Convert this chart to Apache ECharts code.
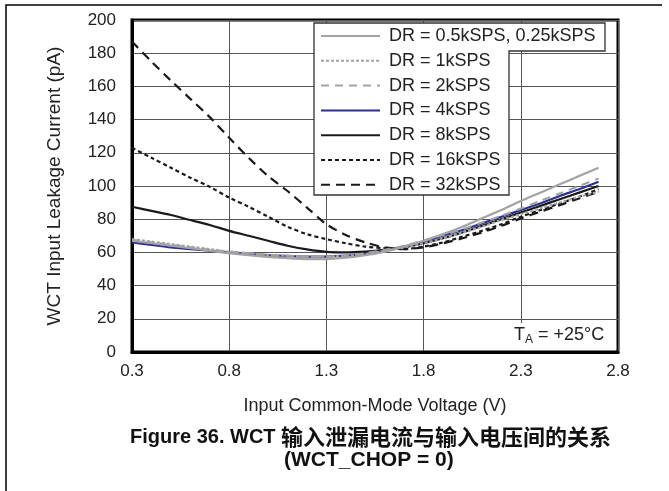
<!DOCTYPE html>
<html>
<head>
<meta charset="utf-8">
<script src="https://cdn.jsdelivr.net/npm/echarts@6/dist/echarts.min.js"></script>
<style>
  html, body { margin: 0; padding: 0; background: #fff; }
  #main { width: 669px; height: 491px; }
</style>
</head>
<body>
<div id="main"></div>
<script>
// 输入共模电压 (V)
var voltage = [0.3, 0.4, 0.5, 0.6, 0.7, 0.8, 0.9, 1.0, 1.1, 1.2, 1.3, 1.4, 1.5,
  1.6, 1.7, 1.8, 1.9, 2.0, 2.1, 2.2, 2.3, 2.4, 2.5, 2.6, 2.7];

// 各数据速率下的漏电流 (pA)
var dr05 = [67, 65.5, 64, 62.5, 61, 59.5, 58.3, 57.3, 56.5, 56, 56, 56.8, 58.3,
  60.5, 63.5, 67, 71, 75.5, 80.5, 85.5, 91, 96, 101, 106, 111];
var dr1 = [68, 66.5, 65, 63.5, 62, 60.5, 59.5, 58.5, 58, 57.5, 57.5, 58, 59,
  61, 63, 65.5, 68.5, 72, 75.5, 79.5, 83, 86.5, 90, 93.5, 96.5];
var dr2 = [67.5, 66, 64.5, 63, 61.5, 60.5, 59.5, 58.5, 58, 57.5, 57.5, 58, 59.5,
  61.5, 64, 67, 70.5, 74, 78, 82, 86.5, 91, 95.5, 100, 104.5];
var dr4 = [66, 64.5, 63, 62, 61, 60, 59, 58.3, 57.8, 57.5, 57.5, 58, 59,
  61, 63.5, 66.5, 70, 73.5, 77.5, 81.5, 85.5, 89.5, 94, 98, 102.5];
var dr8 = [87.5, 85, 82.5, 79.5, 76.5, 73, 70, 67, 64, 61.8, 60.3, 60, 60.5,
  61.5, 63, 65.5, 68.5, 72, 76, 80, 84, 88, 92, 96, 100];
var dr16 = [123, 117, 111, 105, 99.5, 93, 87.5, 81.5, 75.5, 71, 68, 65.5, 63.5,
  62.5, 62, 63.5, 66, 69.5, 73, 77, 81.5, 85.5, 89.5, 93.5, 98];
var dr32 = [187, 175, 163.5, 152.5, 141.5, 129, 117, 106, 97, 87, 77, 70.5, 66,
  63, 62, 63, 65.5, 68.5, 72, 76, 80.5, 84.5, 88.5, 92.5, 96.5];

var legendNames = ['DR = 0.5kSPS, 0.25kSPS', 'DR = 1kSPS', 'DR = 2kSPS', 'DR = 4kSPS',
  'DR = 8kSPS', 'DR = 16kSPS', 'DR = 32kSPS'];

var GRAY = '#a3a3a3', BLUE = '#2e3192', BLACK = '#1a1a1a';
var FONT = 'Liberation Sans, Arial, sans-serif';

function pairs(ys) {
  var out = [];
  for (var i = 0; i < voltage.length; i++) {
    out.push([voltage[i], ys[i]]);
  }
  return out;
}

function mk(name, ys, color, type) {
  return {
    name: name,
    type: 'line',
    smooth: 0.3,
    symbol: 'none',
    lineStyle: { color: color, width: 2.2, type: type },
    itemStyle: { color: color },
    data: pairs(ys)
  };
}

var chart = echarts.init(document.getElementById('main'));

var option = {
  animation: false,
  textStyle: { fontFamily: FONT },
  grid: {
    left: 132, right: 51, top: 20, bottom: 139,
    show: true, borderColor: '#000', borderWidth: 3
  },
  legend: {
    data: legendNames,
    orient: 'vertical',
    left: 320, top: 26, padding: 0,
    itemWidth: 59, itemHeight: 14, itemGap: 4.8,
    itemStyle: { opacity: 0 },
    textStyle: { fontSize: 18, color: '#222', lineHeight: 20, padding: [0, 0, 0, 4] },
    z: 10
  },
  xAxis: {
    type: 'value', min: 0.3, max: 2.8, interval: 0.5,
    name: 'Input Common-Mode Voltage (V)', nameLocation: 'middle', nameGap: 45,
    nameTextStyle: { fontSize: 18, color: '#222' },
    axisLine: { show: true, lineStyle: { color: '#000', width: 3 } },
    axisTick: { show: false },
    axisLabel: { fontSize: 17, color: '#222', margin: 11, formatter: function (v) { return v.toFixed(1); } },
    splitLine: { show: true, lineStyle: { color: '#555', width: 1 } }
  },
  yAxis: {
    type: 'value', min: 0, max: 200, interval: 20,
    name: 'WCT Input Leakage Current (pA)', nameLocation: 'middle', nameGap: 68,
    nameTextStyle: { fontSize: 19, color: '#222' },
    axisLine: { show: true, lineStyle: { color: '#000', width: 3 } },
    axisTick: { show: false },
    axisLabel: { fontSize: 17, color: '#222', margin: 16 },
    splitLine: { show: true, lineStyle: { color: '#555', width: 1 } }
  },
  graphic: [
    // 外框
    { type: 'polyline', shape: { points: [[6, 491], [6, 5], [662, 5]] },
      style: { stroke: '#000', lineWidth: 1.5, fill: null }, silent: true },
    // 图例框
    { type: 'polygon', z: 5,
      shape: { points: [[314, 23], [605, 23], [605, 51], [509, 51], [509, 195], [314, 195]] },
      style: { fill: '#fff', stroke: '#333', lineWidth: 1.3 } },
    { type: 'text', z: 6, left: 510, top: 323,
      style: {
        text: '{t|T}{s|A}{t| = +25°C}',
        backgroundColor: '#fff', padding: [2, 4, 4, 4],
        rich: {
          t: { fontSize: 18, fill: '#222', fontFamily: FONT },
          s: { fontSize: 12, fill: '#222', fontFamily: FONT, verticalAlign: 'bottom', padding: [9, 0, 0, 0] }
        }
      } },
    { type: 'text', left: 130, top: 426,
      style: {
        text: '{a|Figure 36. WCT }{b|输入泄漏电流与输入电压间的关系}',
        rich: {
          a: { fontSize: 20, fontWeight: 'bold', fill: '#111', fontFamily: FONT },
          b: { fontSize: 22, fontWeight: 'bold', fill: '#111', fontFamily: 'Noto Sans CJK SC' }
        }
      } },
    { type: 'text', left: 284, top: 450,
      style: { text: '(WCT_CHOP = 0)', fontSize: 21, fontWeight: 'bold', fill: '#111', fontFamily: FONT } }
  ],
  series: [
    mk('DR = 32kSPS', dr32, BLACK, [9, 6]),
    mk('DR = 16kSPS', dr16, BLACK, [4, 3]),
    mk('DR = 8kSPS', dr8, BLACK, 'solid'),
    mk('DR = 4kSPS', dr4, BLUE, 'solid'),
    mk('DR = 2kSPS', dr2, GRAY, [8, 6]),
    mk('DR = 1kSPS', dr1, GRAY, [3, 2]),
    mk('DR = 0.5kSPS, 0.25kSPS', dr05, GRAY, 'solid')
  ]
};

chart.setOption(option);
</script>
</body>
</html>
